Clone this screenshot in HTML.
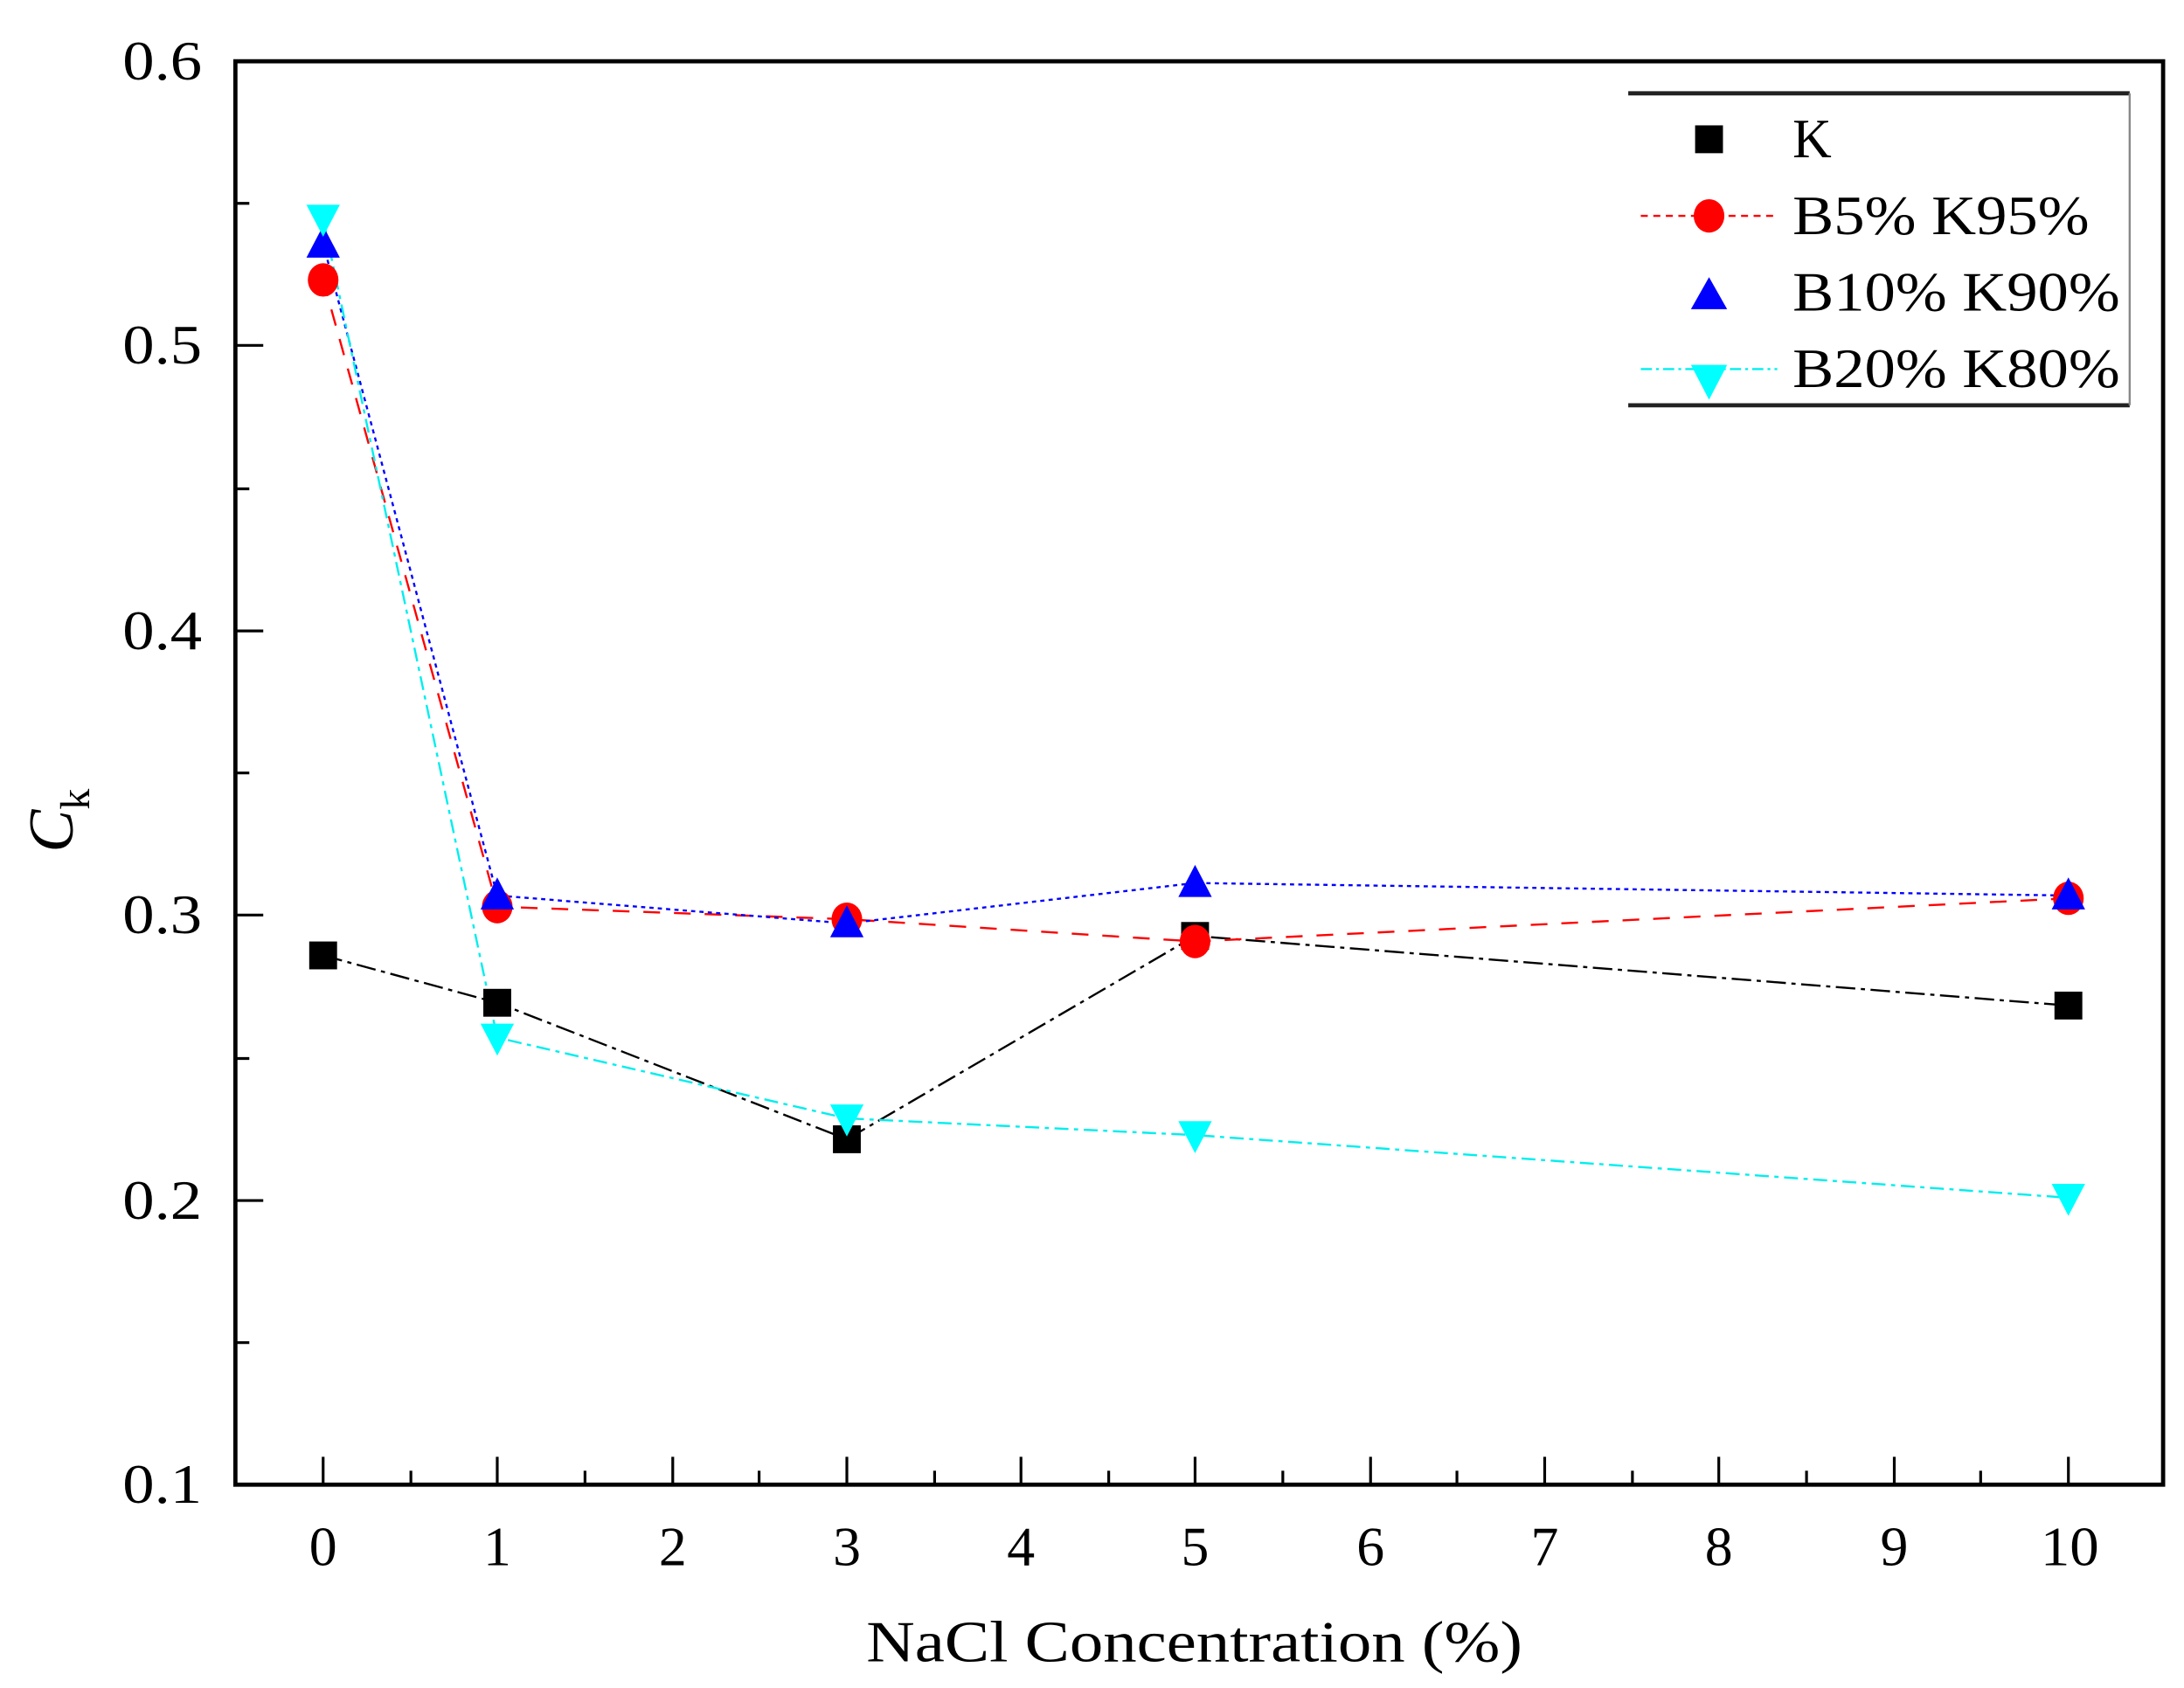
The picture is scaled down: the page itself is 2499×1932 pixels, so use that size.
<!DOCTYPE html>
<html><head><meta charset="utf-8"><style>html,body{margin:0;padding:0;background:#fff}svg{display:block}</style></head>
<body>
<svg width="2499" height="1932" viewBox="0 0 1568 1212" preserveAspectRatio="none" xmlns="http://www.w3.org/2000/svg" font-family="Liberation Serif, serif">
<rect width="1568" height="1212" fill="#fff"/>
<rect x="169" y="44" width="1384" height="1022" fill="none" stroke="#000" stroke-width="3"/>
<g stroke="#000" stroke-width="2">
<line x1="232" y1="1066" x2="232" y2="1046"/><line x1="357" y1="1066" x2="357" y2="1046"/><line x1="483" y1="1066" x2="483" y2="1046"/><line x1="608" y1="1066" x2="608" y2="1046"/><line x1="733" y1="1066" x2="733" y2="1046"/><line x1="858" y1="1066" x2="858" y2="1046"/><line x1="984" y1="1066" x2="984" y2="1046"/><line x1="1109" y1="1066" x2="1109" y2="1046"/><line x1="1234" y1="1066" x2="1234" y2="1046"/><line x1="1360" y1="1066" x2="1360" y2="1046"/><line x1="1485" y1="1066" x2="1485" y2="1046"/>
<line x1="295" y1="1066" x2="295" y2="1056"/><line x1="420" y1="1066" x2="420" y2="1056"/><line x1="545" y1="1066" x2="545" y2="1056"/><line x1="671" y1="1066" x2="671" y2="1056"/><line x1="796" y1="1066" x2="796" y2="1056"/><line x1="921" y1="1066" x2="921" y2="1056"/><line x1="1046" y1="1066" x2="1046" y2="1056"/><line x1="1172" y1="1066" x2="1172" y2="1056"/><line x1="1297" y1="1066" x2="1297" y2="1056"/><line x1="1422" y1="1066" x2="1422" y2="1056"/>
<line x1="169" y1="248" x2="189" y2="248"/><line x1="169" y1="453" x2="189" y2="453"/><line x1="169" y1="657" x2="189" y2="657"/><line x1="169" y1="862" x2="189" y2="862"/>
<line x1="169" y1="146" x2="179" y2="146"/><line x1="169" y1="351" x2="179" y2="351"/><line x1="169" y1="555" x2="179" y2="555"/><line x1="169" y1="760" x2="179" y2="760"/><line x1="169" y1="964" x2="179" y2="964"/>
</g>
<g font-size="40" fill="#000">
<text x="88" y="57" textLength="57" lengthAdjust="spacingAndGlyphs">0.6</text>
<text x="88" y="261" textLength="57" lengthAdjust="spacingAndGlyphs">0.5</text>
<text x="88" y="466" textLength="57" lengthAdjust="spacingAndGlyphs">0.4</text>
<text x="88" y="670" textLength="57" lengthAdjust="spacingAndGlyphs">0.3</text>
<text x="88" y="875" textLength="57" lengthAdjust="spacingAndGlyphs">0.2</text>
<text x="88" y="1079" textLength="57" lengthAdjust="spacingAndGlyphs">0.1</text>
</g>
<g font-size="40" fill="#000" text-anchor="middle">
<text x="232" y="1124">0</text><text x="357" y="1124">1</text><text x="483" y="1124">2</text><text x="608" y="1124">3</text><text x="733" y="1124">4</text><text x="858" y="1124">5</text><text x="984" y="1124">6</text><text x="1109" y="1124">7</text><text x="1234" y="1124">8</text><text x="1360" y="1124">9</text>
</g>
<text x="1465" y="1124" font-size="40" textLength="42" lengthAdjust="spacingAndGlyphs">10</text>
<text x="622" y="1193" font-size="42" textLength="471" lengthAdjust="spacingAndGlyphs">NaCl Concentration (%)</text>
<text transform="translate(52,612) rotate(-90)" font-size="46" font-style="italic">C<tspan font-size="30" font-style="normal" dy="12">k</tspan></text>
<polyline points="232,686 357,720 608,818 858,672 1485,722" fill="none" stroke="#000" stroke-width="1.5" stroke-dasharray="14,4,3,4"/>
<polyline points="232,201 357,651 608,660 858,676 1485,645" fill="none" stroke="#f00" stroke-width="1.5" stroke-dasharray="12,10"/>
<polyline points="232,175 357,643 608,663 858,634 1485,643" fill="none" stroke="#00f" stroke-width="1.5" stroke-dasharray="3,3"/>
<polyline points="232,157 357,745 608,803 858,815 1485,860" fill="none" stroke="#0ee" stroke-width="1.5" stroke-dasharray="10,4,3,4"/>
<g fill="#000"><rect x="222" y="676" width="20" height="20"/><rect x="347" y="710" width="20" height="20"/><rect x="598" y="808" width="20" height="20"/><rect x="848" y="662" width="20" height="20"/><rect x="1475" y="712" width="20" height="20"/></g>
<g fill="#f00"><ellipse cx="232" cy="201" rx="11" ry="12"/><ellipse cx="357" cy="651" rx="11" ry="12"/><ellipse cx="608" cy="660" rx="11" ry="12"/><ellipse cx="858" cy="676" rx="11" ry="12"/><ellipse cx="1485" cy="645" rx="11" ry="12"/></g>
<g fill="#00f"><polygon points="232,162 220,185 244,185"/><polygon points="357,630 345,653 369,653"/><polygon points="608,650 596,673 620,673"/><polygon points="858,621 846,644 870,644"/><polygon points="1485,630 1473,653 1497,653"/></g>
<g fill="#0ff"><polygon points="232,170 220,147 244,147"/><polygon points="357,758 345,735 369,735"/><polygon points="608,816 596,793 620,793"/><polygon points="858,828 846,805 870,805"/><polygon points="1485,873 1473,850 1497,850"/></g>
<line x1="1169" y1="67" x2="1529" y2="67" stroke="#222" stroke-width="3"/>
<line x1="1169" y1="291" x2="1529" y2="291" stroke="#222" stroke-width="3"/>
<line x1="1529" y1="67" x2="1529" y2="291" stroke="#888" stroke-width="1.5"/>
<rect x="1217" y="90" width="20" height="20" fill="#000"/>
<line x1="1178" y1="155" x2="1276" y2="155" stroke="#f00" stroke-width="1.5" stroke-dasharray="5,4"/>
<ellipse cx="1227" cy="155" rx="11" ry="12" fill="#f00"/>
<polygon points="1227,199 1214,222 1240,222" fill="#00f"/>
<line x1="1178" y1="265" x2="1276" y2="265" stroke="#0ee" stroke-width="1.5" stroke-dasharray="8,3,2,3"/>
<polygon points="1227,287 1214,262 1240,262" fill="#0ff"/>
<g font-size="40" fill="#000">
<text x="1287" y="113" textLength="28" lengthAdjust="spacingAndGlyphs">K</text>
<text x="1287" y="168" textLength="213" lengthAdjust="spacingAndGlyphs">B5% K95%</text>
<text x="1287" y="223" textLength="235" lengthAdjust="spacingAndGlyphs">B10% K90%</text>
<text x="1287" y="278" textLength="235" lengthAdjust="spacingAndGlyphs">B20% K80%</text>
</g>
</svg>
</body></html>
